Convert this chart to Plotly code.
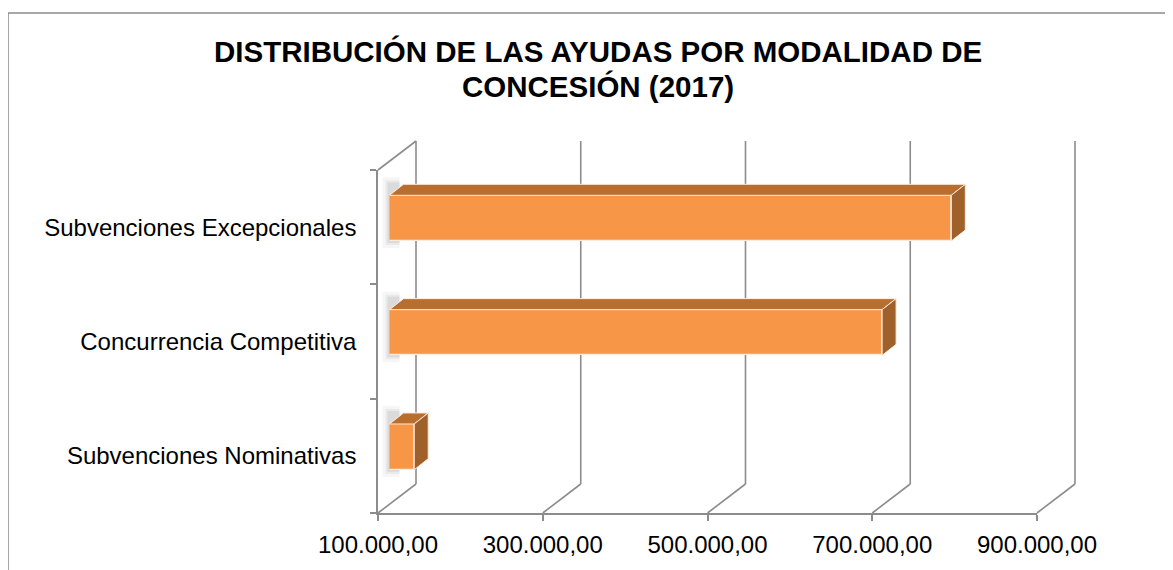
import plotly.graph_objects as go

# ---- data ----
categories = ["Subvenciones Nominativas", "Concurrencia Competitiva", "Subvenciones Excepcionales"]
values = [130000, 698000, 782000]
tick_values = [100000, 300000, 500000, 700000, 900000]
tick_labels = ["100.000,00", "300.000,00", "500.000,00", "700.000,00", "900.000,00"]
title_lines = ["DISTRIBUCIÓN DE LAS AYUDAS POR MODALIDAD DE", "CONCESIÓN (2017)"]
x_min, x_max = 100000, 900000

# ---- geometry / style ----
OFF = 8                      # page body margin
W, H = 1173 - OFF, 570 - OFF
PX0, PX1 = 378, 1037
PY_TOP, PY_BOT = 170, 513
BACK_DX, BACK_DY = 38, 29
BAR_DX, BAR_DY = 11.5, 9
DEPTH_DX, DEPTH_DY = 14, 11
BAR_W = 0.40
GRID = "#8C8C8C"
FRONT = "#F79646"
TOP = "#B86E2E"
SIDE = "#A0602A"
EDGE = "#FDEBDD"
FONT = "Liberation Sans, Arial, sans-serif"


def fx(px):
    return (px - OFF) / W


def fy(py):
    return (H - (py - OFF)) / H


def val_px(v):
    return PX0 + (v - x_min) / (x_max - x_min) * (PX1 - PX0)


n = len(categories)
band = (PY_BOT - PY_TOP) / n


def cat_py(i):
    return PY_BOT - (i + 0.5) * band


kx = (x_max - x_min) / (PX1 - PX0)
ky = n / (PY_BOT - PY_TOP)
dX = DEPTH_DX * kx
dY = DEPTH_DY * ky
idx = list(range(n))

fig = go.Figure()

# invisible trace to build the category axis on the front plane
fig.add_trace(go.Scatter(x=values, y=categories, mode="markers", marker=dict(opacity=0),
                         hoverinfo="skip", showlegend=False, xaxis="x", yaxis="y"))

# bar front faces
fig.add_trace(go.Bar(x=values, y=idx, orientation="h", width=BAR_W,
                     marker=dict(color=FRONT, line=dict(color=EDGE, width=1.2)),
                     showlegend=False, xaxis="x2", yaxis="y2"))

# 3D top and side faces
for i, v in zip(idx, values):
    yt = i + BAR_W / 2
    yb = i - BAR_W / 2
    fig.add_trace(go.Scatter(x=[x_min, v, v + dX, x_min + dX, x_min],
                             y=[yt, yt, yt + dY, yt + dY, yt],
                             fill="toself", fillcolor=TOP, mode="lines",
                             line=dict(color=EDGE, width=1), hoverinfo="skip",
                             showlegend=False, xaxis="x2", yaxis="y2"))
    fig.add_trace(go.Scatter(x=[v, v + dX, v + dX, v, v],
                             y=[yb, yb + dY, yt + dY, yt, yb],
                             fill="toself", fillcolor=SIDE, mode="lines",
                             line=dict(color=EDGE, width=1), hoverinfo="skip",
                             showlegend=False, xaxis="x2", yaxis="y2"))

shapes = []
line = dict(color=GRID, width=1.6)
for t in tick_values:
    xp = val_px(t)
    shapes.append(dict(type="line", xref="paper", yref="paper",
                       x0=fx(xp + BACK_DX), x1=fx(xp + BACK_DX),
                       y0=fy(PY_TOP - BACK_DY), y1=fy(PY_BOT - BACK_DY), line=line, layer="below"))
    shapes.append(dict(type="line", xref="paper", yref="paper",
                       x0=fx(xp), x1=fx(xp + BACK_DX),
                       y0=fy(PY_BOT), y1=fy(PY_BOT - BACK_DY), line=line, layer="below"))
shapes.append(dict(type="line", xref="paper", yref="paper",
                   x0=fx(PX0), x1=fx(PX0 + BACK_DX),
                   y0=fy(PY_TOP), y1=fy(PY_TOP - BACK_DY), line=line, layer="below"))

# soft shadows at the left end of each bar
half_px = BAR_W * band / 2
for i in idx:
    cy = cat_py(i) - BAR_DY
    left = val_px(x_min) + BAR_DX
    for grow, op in [(7, 0.07), (4, 0.10), (2, 0.14)]:
        shapes.append(dict(type="rect", xref="paper", yref="paper",
                           x0=fx(left - grow), x1=fx(left + 10),
                           y0=fy(cy + half_px + grow), y1=fy(cy - half_px - DEPTH_DY - grow),
                           fillcolor="#7F7F7F", opacity=op, line=dict(width=0), layer="below"))

# chart border
shapes.append(dict(type="rect", xref="paper", yref="paper",
                   x0=fx(8), x1=1.2, y0=-0.2, y1=fy(13),
                   line=dict(color="#8A8A8A", width=1.5), layer="below"))

annotations = []
for k, txt in enumerate(title_lines):
    annotations.append(dict(text="<b>" + txt + "</b>",
                            x=fx(598), y=fy(33 + 35 * k), xref="paper", yref="paper",
                            xanchor="center", yanchor="top", showarrow=False,
                            font=dict(size=29.5, family=FONT, color="black")))

fig.update_layout(
    template="none",
    width=W, height=H,
    margin=dict(l=0, r=0, t=0, b=0, pad=0, autoexpand=False),
    paper_bgcolor="white", plot_bgcolor="rgba(0,0,0,0)",
    font=dict(family=FONT, color="black", size=24),
    showlegend=False,
    shapes=shapes,
    bargap=0,
    xaxis=dict(domain=[fx(PX0), fx(PX1)], range=[x_min, x_max], automargin=False,
               tickvals=tick_values, ticktext=tick_labels,
               ticks="outside", ticklen=6, tickcolor=GRID, tickwidth=1.6,
               showline=True, linecolor=GRID, linewidth=1.6,
               showgrid=False, zeroline=False, tickfont=dict(size=24),
               ticklabelstandoff=3),
    yaxis=dict(domain=[fy(PY_BOT), fy(PY_TOP)], type="category", automargin=False,
               categoryorder="array", categoryarray=categories,
               range=[-0.5, n - 0.5],
               tickson="boundaries", ticks="outside", ticklen=6,
               tickcolor=GRID, tickwidth=1.6,
               showline=True, linecolor=GRID, linewidth=1.6,
               showgrid=False, zeroline=False, tickfont=dict(size=24),
               ticklabelstandoff=15),
    xaxis2=dict(domain=[fx(PX0 + BAR_DX), fx(PX1 + BAR_DX)], range=[x_min, x_max],
                visible=False, anchor="y2", automargin=False),
    yaxis2=dict(domain=[fy(PY_BOT - BAR_DY), fy(PY_TOP - BAR_DY)], automargin=False,
                range=[-0.5, n - 0.5], visible=False, anchor="x2"),
    annotations=annotations,
)

fig.write_html("out.html")
